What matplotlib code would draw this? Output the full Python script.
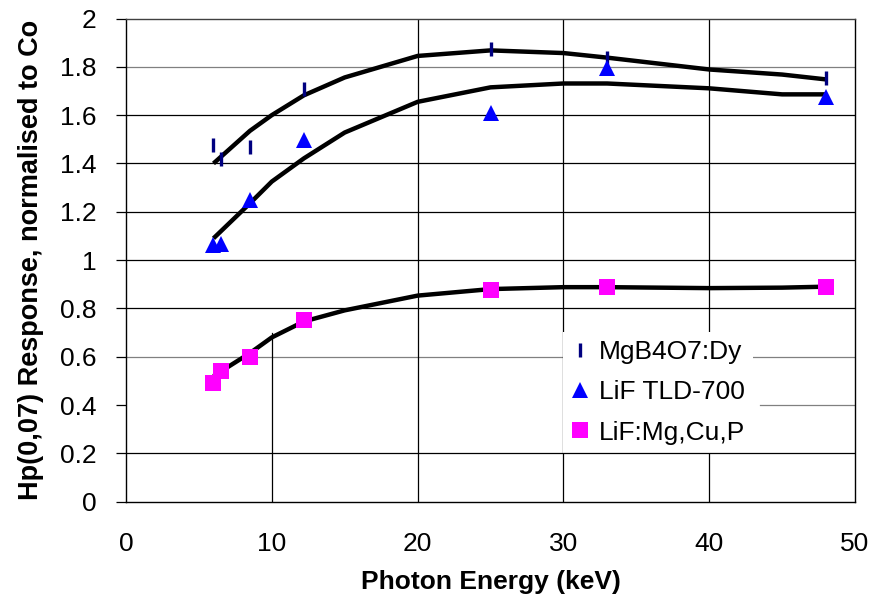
import matplotlib
matplotlib.use("Agg")
import matplotlib.pyplot as plt

plt.rcParams['font.family'] = ['Liberation Sans', 'DejaVu Sans']

# ---- data ----
energy = [6.0, 6.5, 8.5, 12.2, 25.0, 33.0, 48.0]
mgb4o7 = [1.478, 1.417, 1.467, 1.709, 1.872, 1.836, 1.754]
lif700 = [1.063, 1.066, 1.248, 1.496, 1.607, 1.796, 1.674]
lifmgcup = [0.491, 0.541, 0.598, 0.751, 0.876, 0.888, 0.889]

fit_energy = [6.0, 8.5, 10.0, 12.2, 15.0, 20.0, 25.0, 30.0, 33.0, 40.0, 45.0, 48.0]
fit_mgb4o7 = [1.40, 1.535, 1.60, 1.682, 1.756, 1.845, 1.868, 1.857, 1.838, 1.789, 1.768, 1.748]
fit_lif700 = [1.09, 1.235, 1.325, 1.421, 1.528, 1.655, 1.715, 1.731, 1.731, 1.711, 1.686, 1.686]
fit_lifmgcup = [0.52, 0.615, 0.68, 0.746, 0.792, 0.853, 0.880, 0.888, 0.888, 0.884, 0.886, 0.890]

labels = ['MgB4O7:Dy', 'LiF TLD-700', 'LiF:Mg,Cu,P']
xticks = [0, 10, 20, 30, 40, 50]
yticks = [0, 0.2, 0.4, 0.6, 0.8, 1.0, 1.2, 1.4, 1.6, 1.8, 2.0]
yticklabels = ['0', '0.2', '0.4', '0.6', '0.8', '1', '1.2', '1.4', '1.6', '1.8', '2']

fig = plt.figure(figsize=(8.69, 6.03), dpi=100)
ax = fig.add_axes([126 / 869, 1 - 501.7 / 603, 729 / 869, 483.2 / 603])
ax.set_xlim(0, 50)
ax.set_ylim(0, 2)

# gridlines (reproducing the reference's appearance)
for y in yticks[1:-1]:
    col = '#808080' if y in (0.4, 0.6, 1.8) else 'black'
    if y == 0.4:
        ax.axhline(y, xmin=0.87, xmax=1.0, color=col, lw=0.9, zorder=1)
    elif y == 0.2:
        ax.axhline(y, color=col, lw=0.9, zorder=6)
    else:
        ax.axhline(y, color=col, lw=0.9, zorder=1)
for x in xticks[1:-1]:
    if x == 10:
        ax.axvline(x, ymin=0, ymax=0.35, color='black', lw=0.9, zorder=1)
    else:
        ax.axvline(x, color='black', lw=0.9, zorder=1)

# fitted curves
for fy in (fit_mgb4o7, fit_lif700, fit_lifmgcup):
    ax.plot(fit_energy, fy, color='black', lw=3.2, solid_joinstyle='round',
            solid_capstyle='butt', zorder=3)

# data points
ax.plot(energy, mgb4o7, linestyle='none', marker='|', markersize=10,
        markeredgewidth=2.4, color='#000080', label=labels[0], zorder=4)
ax.plot(energy, lif700, linestyle='none', marker='^', markersize=11,
        color='#0000FF', markeredgewidth=0, label=labels[1], zorder=4)
ax.plot(energy, lifmgcup, linestyle='none', marker='s', markersize=11,
        color='#FF00FF', markeredgewidth=0, label=labels[2], zorder=4)

ax.set_xticks(xticks)
ax.set_xticklabels([str(v) for v in xticks])
ax.set_yticks(yticks)
ax.set_yticklabels(yticklabels)
ax.tick_params(axis='x', length=0, pad=22, labelsize=19)
ax.tick_params(axis='y', length=7, width=0.9, pad=14, labelsize=19, direction='out')

for s in ax.spines.values():
    s.set_linewidth(1.0)
    s.set_color('black')
ax.spines['top'].set_color('#404040')

ax.set_xlabel('Photon Energy (keV)', fontsize=19, fontweight='bold', labelpad=10)
ax.set_ylabel('Hp(0,07) Response, normalised to Co', fontsize=19.5,
              fontweight='bold', labelpad=12)

leg = ax.legend(loc='upper left',
                bbox_to_anchor=((563 - 126) / 729, (501.7 - 332) / 483.2),
                borderaxespad=0, fontsize=19, frameon=True, fancybox=False,
                handlelength=0.7, handletextpad=0.35, labelspacing=0.62,
                borderpad=0.3)
leg.get_frame().set_facecolor('white')
leg.get_frame().set_edgecolor('none')
leg.get_frame().set_alpha(1)
leg.set_zorder(5)

fig.savefig('out.png', dpi=100)
